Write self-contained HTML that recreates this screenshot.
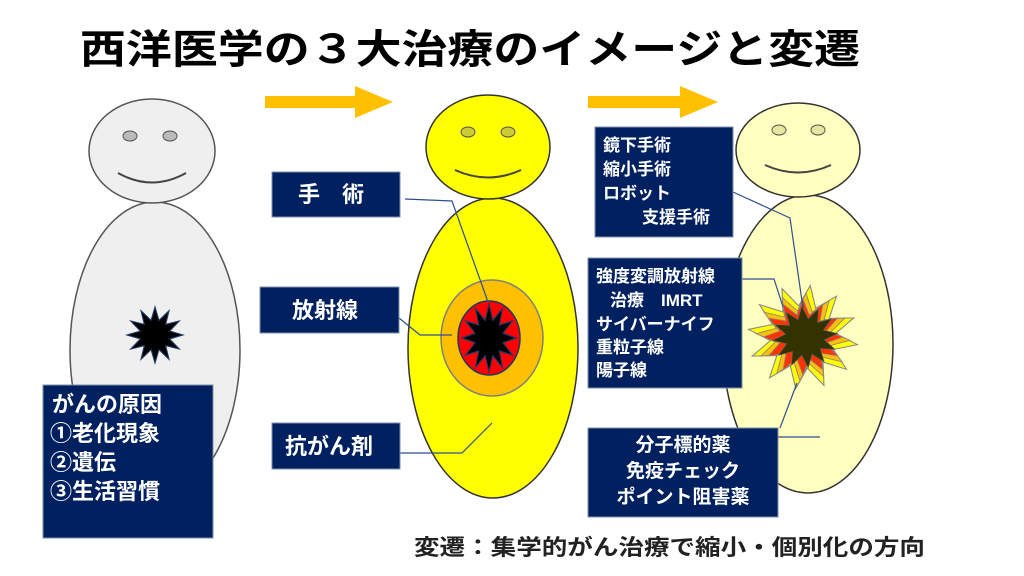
<!DOCTYPE html>
<html><head><meta charset="utf-8"><style>
html,body{margin:0;padding:0;background:#fff;}
svg{display:block;font-family:"Liberation Sans","Noto Sans CJK JP",sans-serif;}
.w{fill:#fff;font-weight:bold;}
</style></head><body>
<svg width="1024" height="576" viewBox="0 0 1024 576">
<defs>
<polygon id="st" points="1,0 .52,.14 .866,.5 .38,.38 .5,.866 .14,.52 0,1 -.14,.52 -.5,.866 -.38,.38 -.866,.5 -.52,.14 -1,0 -.52,-.14 -.866,-.5 -.38,-.38 -.5,-.866 -.14,-.52 0,-1 .14,-.52 .5,-.866 .38,-.38 .866,-.5 .52,-.14"/>
<polygon id="st2" points="1,0 .58,.156 .866,.5 .424,.424 .5,.866 .156,.58 0,1 -.156,.58 -.5,.866 -.424,.424 -.866,.5 -.58,.156 -1,0 -.58,-.156 -.866,-.5 -.424,-.424 -.5,-.866 -.156,-.58 0,-1 .156,-.58 .5,-.866 .424,-.424 .866,-.5 .58,-.156"/>
</defs>
<text x="80" y="63" font-size="40" font-weight="bold" fill="#000" textLength="780" lengthAdjust="spacingAndGlyphs">西洋医学の３大治療のイメージと変遷</text>
<polygon points="265,96 355,96 355,86 393,102 355,118 355,108 265,108" fill="#ffc000"/>
<polygon points="588,96 680,96 680,86 718,102 680,118 680,108 588,108" fill="#ffc000"/>

<ellipse cx="155" cy="350" rx="85" ry="148" fill="#efefef" stroke="#555" stroke-width="1.5"/>
<ellipse cx="152" cy="151" rx="63" ry="52" fill="#efefef" stroke="#555" stroke-width="1.5"/>
<ellipse cx="130" cy="136" rx="7" ry="5" fill="#bbb" stroke="#555"/>
<ellipse cx="170" cy="136" rx="7" ry="5" fill="#bbb" stroke="#555"/>
<path d="M118,173 Q152,192 186,173" fill="none" stroke="#444" stroke-width="2"/>
<use href="#st" transform="translate(155,335) scale(28)" fill="#000" stroke="#1f3864" stroke-width="0.04"/>
<rect x="43" y="385" width="170" height="153" fill="#002060" stroke="#7f8fa8"/>
<text class="w" font-size="22" x="52" y="412">がんの原因</text>
<text class="w" font-size="22" x="50" y="441">①老化現象</text>
<text class="w" font-size="22" x="50" y="470">②遺伝</text>
<text class="w" font-size="22" x="50" y="499">③生活習慣</text>

<ellipse cx="493" cy="348" rx="85" ry="150" fill="#ffff00" stroke="#333" stroke-width="1.5"/>
<ellipse cx="488" cy="147" rx="62" ry="52" fill="#ffff00" stroke="#333" stroke-width="1.5"/>
<ellipse cx="468" cy="132" rx="7" ry="5" fill="#cccc33" stroke="#555"/>
<ellipse cx="508" cy="132" rx="7" ry="5" fill="#cccc33" stroke="#555"/>
<path d="M455,170 Q488,185 521,170" fill="none" stroke="#444" stroke-width="2"/>
<ellipse cx="492" cy="338" rx="51" ry="58" fill="#ffc000" stroke="#7f7f7f" stroke-width="1.5"/>
<ellipse cx="489" cy="338" rx="31" ry="37" fill="#ff0000" stroke="#1f3864" stroke-width="1.5"/>
<use href="#st" transform="translate(489,338) scale(27,34)" fill="#000" stroke="#1f3864" stroke-width="0.04"/>
<polyline points="405,199 452,201 488,302" fill="none" stroke="#2f4f8f" stroke-width="1.2"/>
<polyline points="399,318 420,335 452,335" fill="none" stroke="#2f4f8f" stroke-width="1.2"/>
<polyline points="400,453 462,453 492,423" fill="none" stroke="#2f4f8f" stroke-width="1.2"/>
<rect x="272" y="172" width="128" height="45" fill="#002060" stroke="#7f8fa8"/>
<text class="w" font-size="22" x="298" y="202">手　術</text>
<rect x="260" y="287" width="139" height="46" fill="#002060" stroke="#7f8fa8"/>
<text class="w" font-size="22" x="292" y="318">放射線</text>
<rect x="272" y="423" width="128" height="46" fill="#002060" stroke="#7f8fa8"/>
<text class="w" font-size="22" x="285" y="454">抗がん剤</text>

<ellipse cx="808" cy="344" rx="85" ry="149" fill="#ffffc0" stroke="#333" stroke-width="1.5"/>
<ellipse cx="798" cy="150" rx="62" ry="47" fill="#ffffc0" stroke="#333" stroke-width="1.5"/>
<ellipse cx="779" cy="130" rx="7" ry="5" fill="#e6e6a0" stroke="#555"/>
<ellipse cx="818" cy="130" rx="7" ry="5" fill="#e6e6a0" stroke="#555"/>
<path d="M765,165 Q798,180 831,165" fill="none" stroke="#444" stroke-width="2"/>
<use href="#st2" transform="translate(803,337) rotate(8) scale(55,52)" fill="#ffff00" stroke="#888" stroke-width="0.02"/>
<use href="#st2" transform="translate(803,337) rotate(4) scale(47,44)" fill="#ffc000" stroke="#888" stroke-width="0.02"/>
<use href="#st2" transform="translate(803,337) scale(40,38)" fill="#ff3300" stroke="#888" stroke-width="0.02"/>
<use href="#st2" transform="translate(805,337) rotate(-6) scale(33,31)" fill="#333300" stroke="#666" stroke-width="0.02"/>
<polyline points="733,192 790,218 803,308" fill="none" stroke="#2f4f8f" stroke-width="1.2"/>
<polyline points="742,279 774,279 783,307" fill="none" stroke="#2f4f8f" stroke-width="1.2"/>
<polyline points="780,428 797,383" fill="none" stroke="#2f4f8f" stroke-width="1.2"/>
<polyline points="778,437 820,437" fill="none" stroke="#2f4f8f" stroke-width="1.2"/>
<rect x="595" y="127" width="138" height="110" fill="#002060" stroke="#7f8fa8"/>
<text class="w" font-size="17" x="603" y="151">鏡下手術</text>
<text class="w" font-size="17" x="603" y="175">縮小手術</text>
<text class="w" font-size="17" x="603" y="199">ロボット</text>
<text class="w" font-size="17" x="642" y="223">支援手術</text>
<rect x="588" y="258" width="154" height="130" fill="#002060" stroke="#7f8fa8"/>
<text class="w" font-size="17" x="596" y="282">強度変調放射線</text>
<text class="w" font-size="17" x="610" y="306">治療　IMRT</text>
<text class="w" font-size="17" x="596" y="330">サイバーナイフ</text>
<text class="w" font-size="17" x="596" y="353">重粒子線</text>
<text class="w" font-size="17" x="596" y="376">陽子線</text>
<rect x="588" y="428" width="190" height="89" fill="#002060" stroke="#7f8fa8"/>
<text class="w" font-size="19" x="683" y="451" text-anchor="middle">分子標的薬</text>
<text class="w" font-size="19" x="683" y="477" text-anchor="middle">免疫チェック</text>
<text class="w" font-size="19" x="683" y="503" text-anchor="middle">ポイント阻害薬</text>

<text x="414" y="555" font-size="22" font-weight="bold" fill="#222" textLength="511" lengthAdjust="spacingAndGlyphs">変遷：集学的がん治療で縮小・個別化の方向</text>
</svg>
</body></html>
